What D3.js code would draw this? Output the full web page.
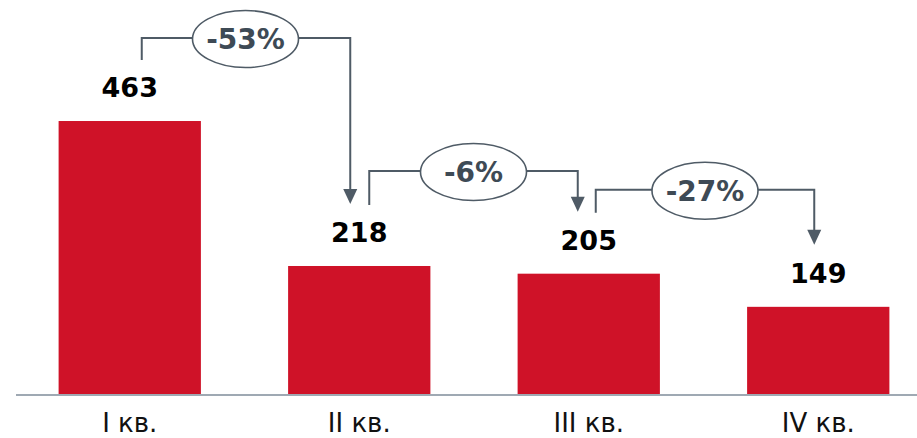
<!DOCTYPE html>
<html>
<head>
<meta charset="utf-8">
<script src="https://cdn.jsdelivr.net/npm/d3@7"></script>
<style>
  html, body { margin: 0; padding: 0; background: #fff; }
  svg { display: block; }
</style>
</head>
<body>
<svg id="chart" width="917" height="438"></svg>
<script>
// Quarterly values
const quarters = ["I кв.", "II кв.", "III кв.", "IV кв."];
const values = [463, 218, 205, 149];

const W = 917, H = 438;
const baseY = 395;

const svg = d3.select("#chart");

const x = d3.scaleBand()
  .domain(quarters)
  .range([15, 933])
  .paddingInner(0.38)
  .paddingOuter(0.19);

const y = d3.scaleLinear()
  .domain([0, 667.5])
  .range([baseY, 0]);

// Bars
svg.append("g")
  .selectAll("rect")
  .data(values)
  .join("rect")
  .attr("x", (d, i) => x(quarters[i]))
  .attr("y", d => y(d))
  .attr("width", x.bandwidth())
  .attr("height", d => baseY - y(d))
  .attr("fill", "#cf1228");

// Category axis under the bars
const axis = d3.axisBottom(x).tickSize(0).tickPadding(0);
const gx = svg.append("g")
  .attr("transform", `translate(0,${baseY})`)
  .call(axis);
gx.select(".domain").remove();
gx.selectAll("text")
  .attr("dy", null)
  .attr("y", 37)
  .attr("font-family", "'DejaVu Sans', Verdana, sans-serif")
  .attr("font-size", 26)
  .attr("fill", "#111");

svg.append("line")
  .attr("x1", 16).attr("x2", W)
  .attr("y1", baseY).attr("y2", baseY)
  .attr("stroke", "#9fa9b3")
  .attr("stroke-width", 2);

// Value labels
const cx = i => x(quarters[i]) + x.bandwidth() / 2;
svg.append("g")
  .selectAll("text")
  .data(values)
  .join("text")
  .attr("x", (d, i) => cx(i))
  .attr("y", d => y(d) - 24)
  .attr("text-anchor", "middle")
  .attr("font-family", "'DejaVu Sans', Verdana, sans-serif")
  .attr("font-weight", "bold")
  .attr("font-size", 27)
  .attr("fill", "#000")
  .text(d => d);

// Change brackets between neighbouring quarters
const lineColor = "#4f5b66";
const textColor = "#3e4a55";
// vertical lift of each bracket above the taller bar of its pair
const lift = [83, 95, 84];
const startOff = [12, 10, 7];
const endOff = [-9, -11, -4];

const pairs = d3.pairs(values);
const ann = svg.append("g");

pairs.forEach(([a, b], i) => {
  const topY = y(Math.max(a, b)) - lift[i];
  const x0 = cx(i) + startOff[i];
  const x1 = cx(i + 1) + endOff[i];
  const startBottom = y(a) - 61;
  const tipY = y(b) - 62;
  const ex = (x0 + x1) / 2 + (i === 0 ? -0.5 : 0);
  const rx = 53, ry = 28.5;

  ann.append("path")
    .attr("d", `M${x0},${startBottom} V${topY} H${ex - rx}`)
    .attr("fill", "none")
    .attr("stroke", lineColor)
    .attr("stroke-width", 2);

  ann.append("path")
    .attr("d", `M${ex + rx},${topY} H${x1} V${tipY - 13}`)
    .attr("fill", "none")
    .attr("stroke", lineColor)
    .attr("stroke-width", 2);

  ann.append("path")
    .attr("d", `M${x1 - 7},${tipY - 15} L${x1 + 7},${tipY - 15} L${x1},${tipY} Z`)
    .attr("fill", lineColor);

  ann.append("ellipse")
    .attr("cx", ex).attr("cy", topY + 1)
    .attr("rx", rx).attr("ry", ry)
    .attr("fill", "#fff")
    .attr("stroke", lineColor)
    .attr("stroke-width", 1.6);

  const pct = Math.round((b / a - 1) * 100);
  ann.append("text")
    .attr("x", ex).attr("y", topY + 11)
    .attr("text-anchor", "middle")
    .attr("font-family", "'DejaVu Sans', Verdana, sans-serif")
    .attr("font-weight", "bold")
    .attr("font-size", 28)
    .attr("fill", textColor)
    .text((pct > 0 ? "+" : "") + pct + "%");
});
</script>
</body>
</html>
